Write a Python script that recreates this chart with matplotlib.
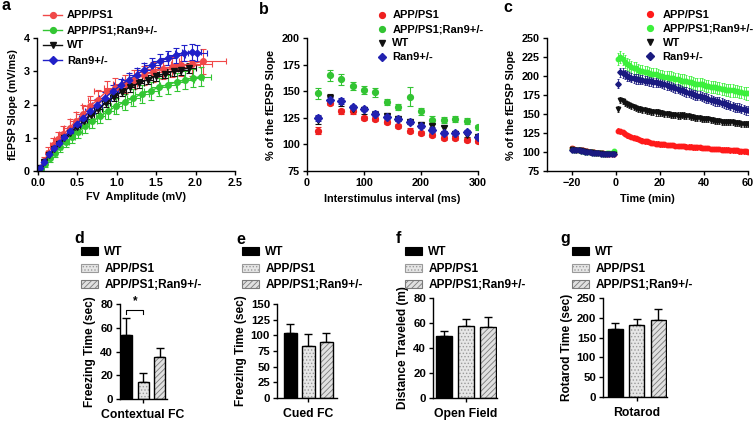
import matplotlib
matplotlib.use("Agg")
import matplotlib.pyplot as plt
import numpy as np
from matplotlib.lines import Line2D
from matplotlib.patches import Patch

plt.rcParams['font.family'] = ['Liberation Sans', 'DejaVu Sans']
plt.rcParams['font.weight'] = 'bold'
plt.rcParams['axes.labelweight'] = 'bold'
plt.rcParams['font.size'] = 7.8
plt.rcParams['hatch.linewidth'] = 0.6

W, H = 755, 422

# ---------------- Panel a data (input-output) ----------------
a_labels = ['APP/PS1', 'APP/PS1;Ran9+/-', 'WT', 'Ran9+/-']
a_red_x = [0.03, 0.08, 0.13, 0.19, 0.25, 0.32, 0.40, 0.48, 0.57, 0.66, 0.76, 0.88, 0.98, 1.10, 1.22, 1.34, 1.46, 1.58, 1.70, 1.82, 1.95, 2.09]
a_red_y = [0.10, 0.30, 0.55, 0.78, 0.95, 1.10, 1.30, 1.50, 1.70, 1.95, 2.15, 2.42, 2.50, 2.62, 2.75, 2.88, 2.98, 3.06, 3.12, 3.18, 3.22, 3.30]
a_red_xe = [0.01, 0.02, 0.03, 0.04, 0.05, 0.06, 0.07, 0.08, 0.09, 0.10, 0.12, 0.17, 0.14, 0.15, 0.16, 0.18, 0.19, 0.20, 0.22, 0.24, 0.26, 0.30]
a_red_ye = [0.05, 0.12, 0.18, 0.20, 0.22, 0.25, 0.26, 0.28, 0.30, 0.30, 0.30, 0.30, 0.30, 0.28, 0.28, 0.28, 0.30, 0.30, 0.30, 0.32, 0.35, 0.38]

a_grn_x = [0.04, 0.09, 0.15, 0.21, 0.28, 0.35, 0.43, 0.51, 0.60, 0.69, 0.79, 0.89, 0.99, 1.10, 1.21, 1.32, 1.43, 1.54, 1.65, 1.76, 1.87, 1.97, 2.07]
a_grn_y = [0.05, 0.20, 0.38, 0.55, 0.72, 0.88, 1.02, 1.18, 1.35, 1.50, 1.65, 1.80, 1.95, 2.08, 2.20, 2.32, 2.42, 2.52, 2.60, 2.68, 2.74, 2.80, 2.84]
a_grn_xe = [0.01, 0.02, 0.02, 0.03, 0.03, 0.04, 0.04, 0.05, 0.05, 0.06, 0.06, 0.07, 0.07, 0.08, 0.08, 0.09, 0.09, 0.10, 0.10, 0.11, 0.11, 0.12, 0.12]
a_grn_ye = [0.05, 0.08, 0.10, 0.12, 0.14, 0.16, 0.18, 0.20, 0.20, 0.22, 0.22, 0.24, 0.25, 0.25, 0.26, 0.26, 0.27, 0.27, 0.28, 0.28, 0.28, 0.28, 0.28]

a_wt_x = [0.03, 0.08, 0.14, 0.20, 0.26, 0.33, 0.41, 0.49, 0.58, 0.67, 0.76, 0.86, 0.96, 1.06, 1.17, 1.28, 1.39, 1.50, 1.61, 1.72, 1.82, 1.92]
a_wt_y = [0.08, 0.28, 0.48, 0.66, 0.82, 0.98, 1.15, 1.32, 1.50, 1.68, 1.85, 2.05, 2.22, 2.38, 2.52, 2.64, 2.75, 2.85, 2.93, 3.00, 3.05, 3.10]
a_wt_xe = [0.01, 0.01, 0.02, 0.02, 0.03, 0.03, 0.03, 0.04, 0.04, 0.04, 0.05, 0.05, 0.05, 0.06, 0.06, 0.06, 0.07, 0.07, 0.07, 0.08, 0.08, 0.08]
a_wt_ye = [0.03, 0.05, 0.06, 0.07, 0.08, 0.09, 0.10, 0.10, 0.11, 0.11, 0.12, 0.12, 0.12, 0.13, 0.13, 0.13, 0.14, 0.14, 0.14, 0.15, 0.15, 0.15]

a_blu_x = [0.03, 0.08, 0.14, 0.20, 0.26, 0.33, 0.41, 0.49, 0.57, 0.66, 0.75, 0.85, 0.95, 1.05, 1.15, 1.25, 1.35, 1.45, 1.55, 1.65, 1.75, 1.85, 1.95, 2.02]
a_blu_y = [0.08, 0.28, 0.50, 0.68, 0.85, 1.02, 1.20, 1.40, 1.60, 1.80, 2.00, 2.20, 2.40, 2.58, 2.75, 2.90, 3.05, 3.18, 3.30, 3.40, 3.48, 3.55, 3.58, 3.55]
a_blu_xe = [0.01, 0.02, 0.02, 0.03, 0.03, 0.04, 0.04, 0.05, 0.05, 0.06, 0.06, 0.07, 0.07, 0.08, 0.08, 0.09, 0.09, 0.10, 0.10, 0.10, 0.11, 0.11, 0.12, 0.12]
a_blu_ye = [0.04, 0.06, 0.08, 0.10, 0.11, 0.12, 0.13, 0.14, 0.15, 0.16, 0.17, 0.18, 0.18, 0.19, 0.19, 0.20, 0.20, 0.21, 0.21, 0.22, 0.22, 0.23, 0.23, 0.23]

# ---------------- Panel b data (paired-pulse) ----------------
b_x = [20, 40, 60, 80, 100, 120, 140, 160, 180, 200, 220, 240, 260, 280, 300]
b_red = [113, 139, 131, 131, 125, 124, 121, 117, 113, 111, 109, 106, 106, 104, 103]
b_red_e = [3, 2, 2, 2, 2, 2, 2, 2, 2, 2, 2, 2, 2, 2, 2]
b_grn = [148, 165, 161, 155, 151, 149, 140, 135, 145, 131, 123, 123, 124, 122, 116]
b_grn_e = [5, 5, 5, 4, 4, 4, 3, 3, 9, 3, 4, 3, 3, 3, 2]
b_wt = [123, 144, 139, 133, 132, 128, 127, 124, 121, 118, 117, 115, 110, 109, 107]
b_wt_e = [4, 3, 3, 3, 3, 3, 2, 2, 2, 2, 2, 2, 2, 2, 2]
b_blu = [125, 142, 141, 135, 133, 129, 126, 124, 121, 117, 114, 111, 111, 112, 107]
b_blu_e = [3, 3, 3, 2, 2, 2, 2, 2, 2, 2, 2, 2, 2, 2, 2]

# ---------------- Panel c data (LTP) ----------------
c_base_t = [-20, -19, -18, -17, -16, -15, -14, -13, -12, -11, -10, -9, -8, -7, -6, -5, -4, -3, -2, -1]
c_post_t = list(range(1, 61))
c_red_base = [105, 104, 103, 103, 102, 102, 101, 101, 100, 100, 100, 99, 99, 99, 99, 98, 98, 98, 97, 97]
c_grn_base = [104, 103, 102, 102, 101, 101, 100, 100, 100, 100, 99, 99, 99, 99, 98, 98, 99, 99, 99, 101]
c_wt_base = [104, 103, 103, 102, 102, 101, 101, 100, 100, 100, 99, 99, 99, 99, 98, 98, 98, 98, 97, 97]
c_blu_base = [103, 103, 102, 102, 101, 101, 100, 100, 100, 99, 99, 99, 99, 98, 98, 98, 98, 97, 97, 97]
c_red_post = [128, 127, 126, 124, 122, 121, 120, 119, 118, 117, 116, 115, 114, 114, 113, 112, 112, 111, 111, 110,
              110, 110, 109, 109, 109, 109, 108, 108, 108, 108, 108, 107, 107, 107, 106, 106, 106, 106, 105, 105,
              105, 105, 104, 104, 104, 104, 104, 103, 103, 103, 103, 102, 102, 102, 102, 101, 101, 101, 101, 100]
c_grn_post = [222, 225, 222, 219, 216, 214, 212, 211, 210, 208, 207, 206, 205, 205, 204, 203, 202, 202, 201, 200,
              200, 199, 199, 198, 198, 197, 196, 196, 195, 194, 194, 193, 192, 192, 191, 190, 190, 189, 189, 188,
              187, 187, 186, 186, 185, 184, 184, 183, 183, 182, 182, 181, 181, 180, 180, 179, 179, 178, 177, 177]
c_wt_post = [157, 168, 167, 165, 163, 162, 160, 159, 158, 157, 156, 155, 155, 154, 154, 153, 153, 152, 152, 151,
             151, 150, 150, 150, 149, 149, 149, 148, 148, 149, 148, 147, 147, 146, 146, 145, 145, 145, 144, 144,
             143, 143, 142, 142, 141, 141, 141, 140, 140, 140, 139, 139, 139, 138, 138, 138, 137, 137, 137, 137]
c_blu_post = [190, 205, 204, 202, 200, 199, 198, 197, 196, 196, 195, 195, 194, 194, 193, 193, 192, 192, 191, 191,
              190, 189, 188, 187, 186, 185, 184, 183, 182, 181, 180, 179, 178, 177, 176, 175, 174, 174, 173, 172,
              171, 170, 169, 168, 167, 167, 166, 165, 164, 163, 162, 161, 160, 159, 158, 158, 157, 156, 155, 155]
c_red_err = 3
c_grn_err = 8
c_wt_err = 4
c_blu_err = 6
c_base_err = 2

# ---------------- Bar panels ----------------
bar_labels = ['WT', 'APP/PS1', 'APP/PS1;Ran9+/-']
d_vals = [54, 14.5, 35.5]
d_errs = [14, 7.5, 7.5]
e_vals = [103, 83.5, 90]
e_errs = [15, 18, 14]
f_vals = [50, 57.6, 57]
f_errs = [3.6, 5.8, 8]
g_vals = [172, 183, 194]
g_errs = [14, 15, 29]


def px_axes(l, t, r, b):
    return fig.add_axes([l / W, 1 - b / H, (r - l) / W, (b - t) / H])


def style(ax, size=7.8):
    for s in ['top', 'right']:
        ax.spines[s].set_visible(False)
    for s in ['left', 'bottom']:
        ax.spines[s].set_linewidth(1.0)
    ax.tick_params(direction='out', length=3, width=1, pad=2, labelsize=size)
    for lab in ax.get_xticklabels() + ax.get_yticklabels():
        lab.set_fontweight('bold')


fig = plt.figure(figsize=(W / 100, H / 100), dpi=100)

# ---------- a ----------
ax = px_axes(37, 38, 235, 171)
a_cols = ['#f04848', '#33c633', '#111111', '#2020c8']
a_marks = ['o', 'o', 'v', 'D']
a_series = [(a_red_x, a_red_y, a_red_xe, a_red_ye), (a_grn_x, a_grn_y, a_grn_xe, a_grn_ye),
            (a_wt_x, a_wt_y, a_wt_xe, a_wt_ye), (a_blu_x, a_blu_y, a_blu_xe, a_blu_ye)]
for (xs, ys, xe, ye), c, m in zip(a_series, a_cols, a_marks):
    ax.errorbar(xs, ys, xerr=xe, yerr=ye, color=c, ecolor=c, marker=m,
                markersize=4.0 if m != 'D' else 3.4, lw=1.0, elinewidth=0.8, capsize=2.2, capthick=0.8)
ax.set_xlim(-0.013, 2.5)
ax.set_ylim(0, 4)
ax.set_xticks([0, 0.5, 1.0, 1.5, 2.0, 2.5])
ax.set_xticklabels(['0.0', '0.5', '1.0', '1.5', '2.0', '2.5'])
ax.set_yticks([0, 1, 2, 3, 4])
ax.set_xlabel('FV  Amplitude (mV)', labelpad=3)
ax.set_ylabel('fEPSP Slope (mV/ms)', labelpad=4)
style(ax)
handles = [Line2D([], [], color=c, marker=m, markersize=4.2 if m != 'D' else 3.6, lw=1) for c, m in zip(a_cols, a_marks)]
ax.legend(handles, a_labels, loc='upper left', bbox_to_anchor=(43 / W, 1 - 10.5 / H), bbox_transform=fig.transFigure,
          frameon=False, borderpad=0, borderaxespad=0, handlelength=1.75, handletextpad=0.4, labelspacing=0.45,
          prop={'weight': 'bold', 'size': 8})

# ---------- b ----------
ax = px_axes(307, 38, 478, 171)
b_cols = ['#ee2020', '#33c433', '#111111', '#2222b0']
b_series = [(b_red, b_red_e), (b_grn, b_grn_e), (b_wt, b_wt_e), (b_blu, b_blu_e)]
for (ys, ye), c, m in zip(b_series, b_cols, a_marks):
    ax.errorbar(b_x, ys, yerr=ye, color=c, ecolor=c, marker=m, ls='none',
                markersize=4.2 if m != 'D' else 3.6, elinewidth=0.8, capsize=2, capthick=0.8)
ax.set_xlim(0, 300)
ax.set_ylim(75, 200)
ax.set_xticks([0, 100, 200, 300])
ax.set_yticks([75, 100, 125, 150, 175, 200])
ax.set_xlabel('Interstimulus interval (ms)', labelpad=4)
ax.set_ylabel('% of the fEPSP Slope', labelpad=4)
style(ax)
handles = [Line2D([], [], color=c, marker=m, markersize=4.2 if m != 'D' else 3.6, ls='none') for c, m in zip(b_cols, a_marks)]
ax.legend(handles, a_labels, loc='upper left', bbox_to_anchor=(378 / W, 1 - 10.5 / H), bbox_transform=fig.transFigure,
          frameon=False, borderpad=0, borderaxespad=0, handlelength=0.8, handletextpad=0.5, labelspacing=0.36,
          prop={'weight': 'bold', 'size': 8})

# ---------- c ----------
ax = px_axes(547, 38, 748, 171)
c_cols = ['#ff1a1a', '#3cf03c', '#111111', '#1a1a80']
c_series = [(c_red_base, c_red_post, c_red_err), (c_grn_base, c_grn_post, c_grn_err),
            (c_wt_base, c_wt_post, c_wt_err), (c_blu_base, c_blu_post, c_blu_err)]
for (yb, yp, err), c, m in zip(c_series, c_cols, a_marks):
    ms = 3.2 if m != 'D' else 2.8
    ax.errorbar(c_base_t, yb, yerr=c_base_err, color=c, ecolor=c, marker=m, ls='none',
                markersize=ms, elinewidth=0.6, capsize=1, capthick=0.6)
    ax.errorbar(c_post_t, yp, yerr=err, color=c, ecolor=c, marker=m, ls='none',
                markersize=ms, elinewidth=0.6, capsize=1, capthick=0.6)
ax.set_xlim(-31.4, 60)
ax.set_ylim(75, 250)
ax.set_xticks([-20, 0, 20, 40, 60])
ax.set_yticks([75, 100, 125, 150, 175, 200, 225, 250])
ax.set_xlabel('Time (min)', labelpad=4)
ax.set_ylabel('% of the fEPSP Slope', labelpad=4)
style(ax)
handles = [Line2D([], [], color=c, marker=m, markersize=4.2 if m != 'D' else 3.6, ls='none') for c, m in zip(c_cols, a_marks)]
ax.legend(handles, a_labels, loc='upper left', bbox_to_anchor=(646 / W, 1 - 9.5 / H), bbox_transform=fig.transFigure,
          frameon=False, borderpad=0, borderaxespad=0, handlelength=0.8, handletextpad=0.7, labelspacing=0.36,
          prop={'weight': 'bold', 'size': 8})


# ---------- bar panels ----------
def bar_panel(box, vals, errs, width, xlim, ylim, yticks, ylabel, xlabel, leg_left):
    ax = px_axes(*box)
    pos = np.arange(len(vals))
    faces = ['black', '#e6e6e6', '#e0e0e0']
    hatches = [None, '.....', '//////']
    hcols = ['black', '#9a9a9a', '#7a7a7a']
    for p, v, fc, h, hc in zip(pos, vals, faces, hatches, hcols):
        ax.bar(p, v, width=width, color=fc, hatch=h, edgecolor=hc, linewidth=0, zorder=2)
        ax.bar(p, v, width=width, fill=False, edgecolor='black', linewidth=1, zorder=3)
    ax.errorbar(pos, vals, yerr=[np.zeros(len(errs)), errs], fmt='none', ecolor='black',
                elinewidth=1, capsize=3, capthick=1, zorder=1)
    ax.set_xlim(*xlim)
    ax.set_ylim(*ylim)
    ax.set_yticks(yticks)
    ax.set_xticks([1])
    ax.set_xticklabels([xlabel])
    ax.set_ylabel(ylabel, labelpad=3, fontsize=8.6)
    style(ax, size=8.2)
    ax.tick_params(axis='x', pad=4, labelsize=8.8)
    for lab in ax.get_xticklabels():
        lab.set_fontweight('bold')
    handles = []
    for fc, h, hc in zip(faces, hatches, hcols):
        handles.append(Patch(facecolor=fc, hatch=h, edgecolor=hc if h else 'black', linewidth=0.8))
    ax.legend(handles, bar_labels, loc='upper left', bbox_to_anchor=(leg_left / W, 1 - 246.5 / H),
              bbox_transform=fig.transFigure, frameon=False, borderpad=0, borderaxespad=0,
              handlelength=1.45, handleheight=0.65, handletextpad=0.5, labelspacing=0.36,
              prop={'weight': 'bold', 'size': 8.6})
    return ax


axd = bar_panel((120, 304, 167, 399), d_vals, d_errs, 0.65, (-0.38, 2.42), (0, 80), [0, 20, 40, 60, 80],
                'Freezing Time (sec)', 'Contextual FC', 81)
axd.plot([0, 0, 1, 1], [72, 75, 75, 72], color='black', lw=0.8, clip_on=False)
axd.text(0.5, 77, '*', ha='center', va='bottom', fontsize=8.5, fontweight='bold')

bar_panel((277, 304, 337, 398), e_vals, e_errs, 0.72, (-0.75, 2.6), (0, 150), [0, 25, 50, 75, 100, 125, 150],
          'Freezing Time (sec)', 'Cued FC', 242)
bar_panel((433, 298, 497, 398), f_vals, f_errs, 0.77, (-0.5, 2.41), (0, 80), [0, 20, 40, 60, 80],
          'Distance Traveled (m)', 'Open Field', 405)
bar_panel((603, 298, 667, 397), g_vals, g_errs, 0.7, (-0.58, 2.4), (0, 250), [0, 50, 100, 150, 200, 250],
          'Rotarod Time (sec)', 'Rotarod', 572)

# panel letters
for letter, x, y in [('a', 2, 6), ('b', 259, 10), ('c', 503, 7), ('d', 74, 238), ('e', 236, 239),
                     ('f', 396, 238), ('g', 560, 239)]:
    fig.text(x / W, 1 - y / H, letter, fontsize=11.5, fontweight='bold', ha='left', va='center')

fig.savefig('out.png', dpi=100)
